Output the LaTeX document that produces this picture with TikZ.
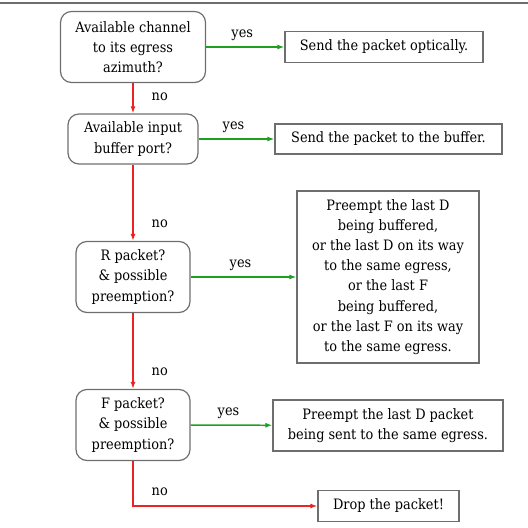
\documentclass[tikz,border=0pt]{standalone}
\usepackage{fontspec}
\setmainfont{DejaVu Serif Condensed}
\usetikzlibrary{arrows.meta}
\definecolor{boxgray}{RGB}{110,110,110}
\definecolor{nored}{RGB}{235,35,35}
\definecolor{yesgreen}{RGB}{30,160,30}
\begin{document}
\begin{tikzpicture}[x=1bp,y=1bp,
  font=\fontsize{14.4}{20.3}\selectfont,
  decision/.style={draw=boxgray, line width=1.2pt, rounded corners=11pt, align=center, inner sep=0pt},
  action/.style={draw=boxgray, line width=1.2pt, align=center, inner sep=0pt},
  yesarrow/.style={draw=yesgreen, line width=1.5pt, -{Latex[length=7pt,width=5pt]}},
  noarrow/.style={draw=nored, line width=1.5pt, -{Latex[length=7pt,width=5pt]}},
  lbl/.style={inner sep=1pt}]
\useasboundingbox (0,0) rectangle (528,528);
\draw[boxgray, line width=1.2pt] (0,525) -- (528,525);
\node[decision, minimum width=145bp, minimum height=71bp] (d1) at (133,481) {Available channel\\to its egress\\azimuth?};
\node[action, minimum width=198bp, minimum height=31bp] (a1) at (384,481) {Send the packet optically.};
\node[decision, minimum width=130bp, minimum height=50bp] (d2) at (133,389) {Available input\\buffer port?};
\node[action, minimum width=227bp, minimum height=30bp] (a2) at (388.5,389) {Send the packet to the buffer.};
\node[decision, minimum width=114bp, minimum height=71bp] (d3) at (133,251) {R packet?\\\& possible\\preemption?};
\node[action, minimum width=182bp, minimum height=172bp] (a3) at (388,251) {Preempt the last D\\being buffered,\\or the last D on its way\\to the same egress,\\or the last F\\being buffered,\\or the last F on its way\\to the same egress.};
\node[decision, minimum width=114bp, minimum height=71bp] (d4) at (133,103) {F packet?\\\& possible\\preemption?};
\node[action, minimum width=230bp, minimum height=51bp] (a4) at (388,102.5) {Preempt the last D packet\\being sent to the same egress.};
\node[action, minimum width=141bp, minimum height=31bp] (a5) at (388.5,22) {Drop the packet!};
\draw[yesarrow] (d1) -- node[lbl, above=5pt, xshift=-3pt] {yes} (a1);
\draw[yesarrow] (d2) -- node[lbl, above=5pt, xshift=-3pt] {yes} (a2);
\draw[yesarrow] (d3) -- node[lbl, above=5pt, xshift=-3pt] {yes} (a3);
\draw[yesarrow] (d4) -- node[lbl, above=5pt, xshift=-3pt] {yes} (a4);
\draw[noarrow] (d1) -- node[lbl, pos=0.45, right=17pt] {no} (d2);
\draw[noarrow] (d2) -- node[lbl, pos=0.78, right=17pt] {no} (d3);
\draw[noarrow] (d3) -- node[lbl, pos=0.78, right=17pt] {no} (d4);
\draw[noarrow] (d4) |- node[lbl, pos=0.34, right=17pt] {no} (a5);
\end{tikzpicture}
\end{document}
